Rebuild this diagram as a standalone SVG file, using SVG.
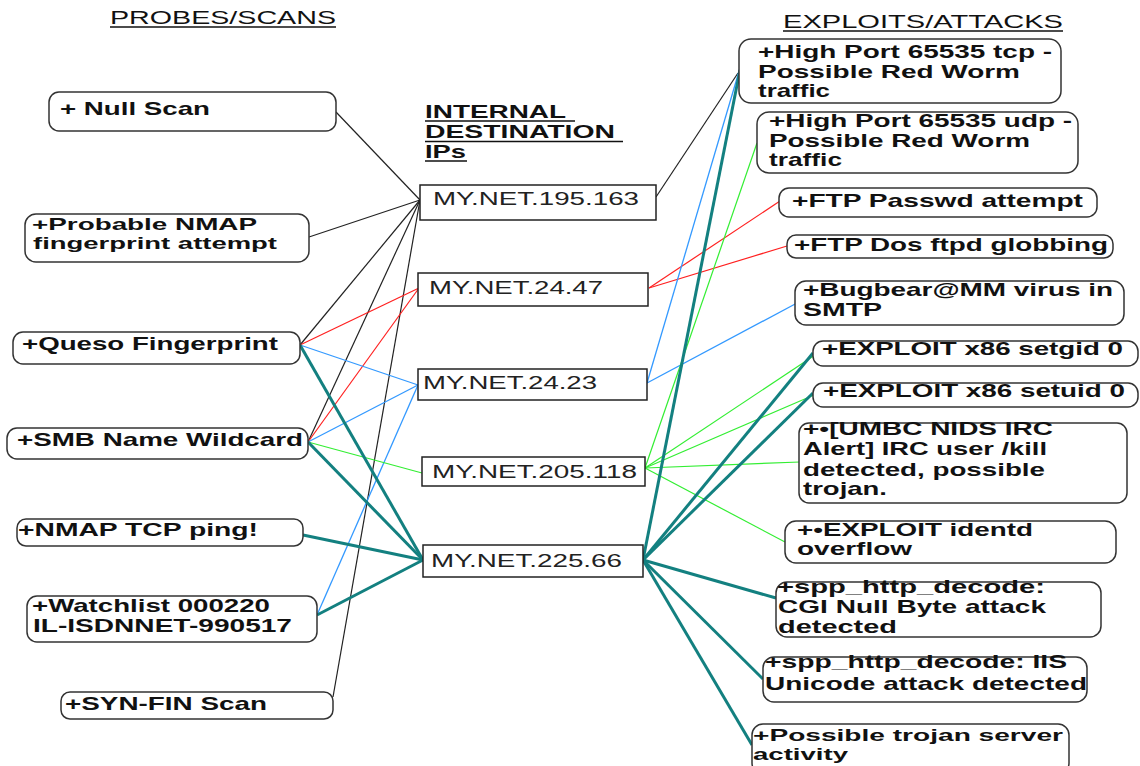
<svg xmlns="http://www.w3.org/2000/svg" width="1140" height="766" viewBox="0 0 1140 766">
<style>
.bg{fill:#ffffff}
.rb{fill:#ffffff;stroke:#333333;stroke-width:1.5}
.sb{fill:#ffffff;stroke:#222222;stroke-width:1.5}
.t{font-family:"Liberation Sans",Arial,sans-serif;font-weight:bold;font-size:19px;fill:#111111}
.ts{font-size:17px}
.m{font-family:"Liberation Sans",Arial,sans-serif;font-size:18px;fill:#222222}
.h{font-family:"Liberation Sans",Arial,sans-serif;font-size:19px;fill:#111111}
.hb{font-family:"Liberation Sans",Arial,sans-serif;font-weight:bold;font-size:18px;fill:#111111}
.ul{stroke:#111111;stroke-width:1.5}
.k{stroke:#222222;stroke-width:1.2;fill:none}
.r{stroke:#ff2020;stroke-width:1.2;fill:none}
.b{stroke:#3399ff;stroke-width:1.3;fill:none}
.g{stroke:#33ee33;stroke-width:1.2;fill:none}
.tl{stroke:#138080;stroke-width:3;fill:none}
</style>
<rect class="bg" x="0" y="0" width="1140" height="766"/>
<g id="headings">
<text class="h" x="110" y="24" textLength="226" lengthAdjust="spacingAndGlyphs">PROBES/SCANS</text>
<line class="ul" x1="110" y1="27" x2="336" y2="27"/>
<text class="h" x="783" y="28" textLength="280" lengthAdjust="spacingAndGlyphs">EXPLOITS/ATTACKS</text>
<line class="ul" x1="783" y1="31" x2="1063" y2="31"/>
<text class="hb" x="425" y="118" textLength="141" lengthAdjust="spacingAndGlyphs">INTERNAL</text>
<line class="ul" x1="425" y1="121" x2="575" y2="121"/>
<text class="hb" x="425" y="138" textLength="190" lengthAdjust="spacingAndGlyphs">DESTINATION</text>
<line class="ul" x1="425" y1="141.5" x2="623" y2="141.5"/>
<text class="hb" x="425" y="158" textLength="41" lengthAdjust="spacingAndGlyphs">IPs</text>
<line class="ul" x1="425" y1="161" x2="467" y2="161"/>
</g>
<g id="connectors">
<line class="k" x1="336" y1="112" x2="420" y2="200"/>
<line class="k" x1="309" y1="237" x2="420" y2="200"/>
<line class="k" x1="300" y1="345" x2="420" y2="200"/>
<line class="k" x1="308" y1="442" x2="420" y2="200"/>
<line class="k" x1="333" y1="697" x2="420" y2="200"/>
<line class="r" x1="300" y1="345" x2="419" y2="288"/>
<line class="r" x1="308" y1="442" x2="419" y2="288"/>
<line class="b" x1="300" y1="345" x2="418" y2="385"/>
<line class="b" x1="308" y1="442" x2="418" y2="385"/>
<line class="b" x1="317" y1="615" x2="418" y2="385"/>
<line class="g" x1="308" y1="442" x2="422" y2="473"/>
<line class="tl" x1="300" y1="345" x2="423" y2="560"/>
<line class="tl" x1="308" y1="442" x2="423" y2="560"/>
<line class="tl" x1="303" y1="535" x2="423" y2="560"/>
<line class="tl" x1="317" y1="615" x2="423" y2="560"/>
<line class="k" x1="656" y1="197" x2="738" y2="73"/>
<line class="r" x1="649" y1="288" x2="780" y2="201"/>
<line class="r" x1="649" y1="288" x2="787" y2="246"/>
<line class="b" x1="647" y1="383" x2="797" y2="303"/>
<line class="b" x1="647" y1="383" x2="740" y2="68"/>
<line class="g" x1="645" y1="468" x2="757" y2="143"/>
<line class="g" x1="645" y1="468" x2="815" y2="355"/>
<line class="g" x1="645" y1="468" x2="814" y2="395"/>
<line class="g" x1="645" y1="468" x2="800" y2="462"/>
<line class="g" x1="645" y1="468" x2="785" y2="542"/>
<line class="tl" x1="643" y1="560" x2="740" y2="70"/>
<line class="tl" x1="643" y1="560" x2="813" y2="353"/>
<line class="tl" x1="643" y1="560" x2="813" y2="393"/>
<line class="tl" x1="643" y1="560" x2="776" y2="598"/>
<line class="tl" x1="643" y1="560" x2="763" y2="679"/>
<line class="tl" x1="643" y1="560" x2="752" y2="745"/>
</g>
<g id="null-scan"><rect class="rb" x="49" y="92" width="287" height="39" rx="10"/><text class="t" x="60" y="115" textLength="150" lengthAdjust="spacingAndGlyphs">+ Null Scan</text></g>
<g id="nmap-fingerprint"><rect class="rb" x="25" y="214" width="284" height="48" rx="11"/><text class="t ts" x="32" y="230" textLength="225" lengthAdjust="spacingAndGlyphs">+Probable NMAP</text><text class="t ts" x="33" y="249" textLength="244" lengthAdjust="spacingAndGlyphs">fingerprint attempt</text></g>
<g id="queso"><rect class="rb" x="13" y="332" width="287" height="32" rx="10"/><text class="t" x="22" y="350" textLength="256" lengthAdjust="spacingAndGlyphs">+Queso Fingerprint</text></g>
<g id="smb"><rect class="rb" x="7" y="428" width="301" height="31" rx="10"/><text class="t" x="17" y="446" textLength="286" lengthAdjust="spacingAndGlyphs">+SMB Name Wildcard</text></g>
<g id="nmap-ping"><rect class="rb" x="17" y="519" width="286" height="27" rx="9"/><text class="t" x="18" y="536" textLength="240" lengthAdjust="spacingAndGlyphs">+NMAP TCP ping!</text></g>
<g id="watchlist"><rect class="rb" x="27" y="596" width="290" height="46" rx="10"/><text class="t" x="32" y="612" textLength="238" lengthAdjust="spacingAndGlyphs">+Watchlist 000220</text><text class="t" x="33" y="632" textLength="259" lengthAdjust="spacingAndGlyphs">IL-ISDNNET-990517</text></g>
<g id="syn-fin"><rect class="rb" x="61" y="692" width="272" height="27" rx="9"/><text class="t" x="65" y="710" textLength="202" lengthAdjust="spacingAndGlyphs">+SYN-FIN Scan</text></g>
<g id="ip-195-163"><rect class="sb" x="420" y="185" width="236" height="35"/><text class="m" x="433" y="205" textLength="206" lengthAdjust="spacingAndGlyphs">MY.NET.195.163</text></g>
<g id="ip-24-47"><rect class="sb" x="418" y="273" width="230" height="33"/><text class="m" x="429" y="294" textLength="174" lengthAdjust="spacingAndGlyphs">MY.NET.24.47</text></g>
<g id="ip-24-23"><rect class="sb" x="418" y="369" width="229" height="31"/><text class="m" x="423" y="389" textLength="174" lengthAdjust="spacingAndGlyphs">MY.NET.24.23</text></g>
<g id="ip-205-118"><rect class="sb" x="422" y="457" width="223" height="29"/><text class="m" x="432" y="478" textLength="205" lengthAdjust="spacingAndGlyphs">MY.NET.205.118</text></g>
<g id="ip-225-66"><rect class="sb" x="423" y="545" width="220" height="32"/><text class="m" x="431" y="567" textLength="191" lengthAdjust="spacingAndGlyphs">MY.NET.225.66</text></g>
<g id="high-port-tcp"><rect class="rb" x="739" y="39" width="322" height="64" rx="12"/><text class="t" x="758" y="58" textLength="294" lengthAdjust="spacingAndGlyphs">+High Port 65535 tcp -</text><text class="t" x="758" y="78" textLength="262" lengthAdjust="spacingAndGlyphs">Possible Red Worm</text><text class="t" x="758" y="97" textLength="72" lengthAdjust="spacingAndGlyphs">traffic</text></g>
<g id="high-port-udp"><rect class="rb" x="757" y="112" width="321" height="61" rx="12"/><text class="t" x="769" y="127" textLength="303" lengthAdjust="spacingAndGlyphs">+High Port 65535 udp -</text><text class="t" x="769" y="147" textLength="261" lengthAdjust="spacingAndGlyphs">Possible Red Worm</text><text class="t" x="769" y="166" textLength="73" lengthAdjust="spacingAndGlyphs">traffic</text></g>
<g id="ftp-passwd"><rect class="rb" x="779" y="188" width="318" height="29" rx="10"/><text class="t" x="792" y="207" textLength="291" lengthAdjust="spacingAndGlyphs">+FTP Passwd attempt</text></g>
<g id="ftp-dos"><rect class="rb" x="787" y="235" width="326" height="23" rx="9"/><text class="t" x="794" y="251" textLength="314" lengthAdjust="spacingAndGlyphs">+FTP Dos ftpd globbing</text></g>
<g id="bugbear"><rect class="rb" x="795" y="281" width="329" height="44" rx="11"/><text class="t" x="803" y="296" textLength="310" lengthAdjust="spacingAndGlyphs">+Bugbear@MM virus in</text><text class="t" x="803" y="316" textLength="79" lengthAdjust="spacingAndGlyphs">SMTP</text></g>
<g id="setgid"><rect class="rb" x="813" y="341" width="325" height="25" rx="10"/><text class="t" x="822" y="355" textLength="301" lengthAdjust="spacingAndGlyphs">+EXPLOIT x86 setgid 0</text></g>
<g id="setuid"><rect class="rb" x="813" y="383" width="325" height="24" rx="10"/><text class="t" x="823" y="397" textLength="302" lengthAdjust="spacingAndGlyphs">+EXPLOIT x86 setuid 0</text></g>
<g id="umbc-irc"><rect class="rb" x="799" y="423" width="328" height="80" rx="10"/><text class="t" x="803" y="435" textLength="250" lengthAdjust="spacingAndGlyphs">+•[UMBC NIDS IRC</text><text class="t" x="803" y="455" textLength="244" lengthAdjust="spacingAndGlyphs">Alert] IRC user /kill</text><text class="t" x="803" y="476" textLength="242" lengthAdjust="spacingAndGlyphs">detected, possible</text><text class="t" x="803" y="495" textLength="84" lengthAdjust="spacingAndGlyphs">trojan.</text></g>
<g id="identd"><rect class="rb" x="785" y="521" width="331" height="42" rx="11"/><text class="t" x="797" y="536" textLength="236" lengthAdjust="spacingAndGlyphs">+•EXPLOIT identd</text><text class="t" x="797" y="555" textLength="115" lengthAdjust="spacingAndGlyphs">overflow</text></g>
<g id="cgi-null"><rect class="rb" x="776" y="582" width="325" height="55" rx="11"/><text class="t" x="777" y="593" textLength="268" lengthAdjust="spacingAndGlyphs">+spp_http_decode:</text><text class="t" x="778" y="613" textLength="268" lengthAdjust="spacingAndGlyphs">CGI Null Byte attack</text><text class="t" x="778" y="633" textLength="119" lengthAdjust="spacingAndGlyphs">detected</text></g>
<g id="iis-unicode"><rect class="rb" x="763" y="657" width="324" height="45" rx="11"/><text class="t" x="765" y="668" textLength="302" lengthAdjust="spacingAndGlyphs">+spp_http_decode: IIS</text><text class="t" x="765" y="690" textLength="322" lengthAdjust="spacingAndGlyphs">Unicode attack detected</text></g>
<g id="trojan-server"><rect class="rb" x="752" y="724" width="317" height="50" rx="11"/><text class="t ts" x="753" y="741" textLength="310" lengthAdjust="spacingAndGlyphs">+Possible trojan server</text><text class="t ts" x="753" y="760" textLength="95" lengthAdjust="spacingAndGlyphs">activity</text></g>
</svg>
